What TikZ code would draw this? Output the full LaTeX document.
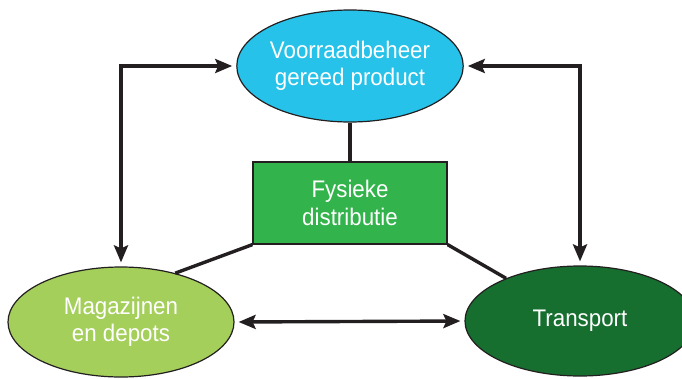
\documentclass[tikz,border=0pt]{standalone}
\usepackage{fontspec}
\setmainfont[FakeStretch=0.93]{Liberation Sans}
\usetikzlibrary{arrows.meta,shapes.geometric}
\definecolor{cyanfill}{HTML}{27C2E9}
\definecolor{midgreen}{HTML}{33B34B}
\definecolor{lightgreen}{HTML}{A4CF5B}
\definecolor{darkgreen}{HTML}{166E2F}
\definecolor{ink}{HTML}{231F20}
\tikzset{
  oval/.style={ellipse, draw=ink, line width=1.2pt, inner sep=0pt,
    text=white, align=center,
    font=\fontsize{24}{26.5}\selectfont},
  box/.style={rectangle, draw=ink, line width=1.2pt, inner sep=0pt,
    text=white, align=center, fill=midgreen,
    font=\fontsize{24}{27.5}\selectfont},
  link/.style={draw=ink, line width=3.4pt},
  flow/.style={draw=ink, line width=3.4pt,
    {Stealth[length=17pt,width=14pt,inset=3pt]}-{Stealth[length=17pt,width=14pt,inset=3pt]},
    shorten <=4pt, shorten >=4pt},
}
\begin{document}
\begin{tikzpicture}[x=1pt,y=-1pt]
  \useasboundingbox (0,0) rectangle (682,378);
  % the four parts of physical distribution
  \node[oval, fill=cyanfill, minimum width=224pt, minimum height=112pt]
    (voorraad) at (350,66) {Voorraadbeheer\\gereed product};
  \node[box, minimum width=194pt, minimum height=82pt]
    (fysiek) at (350,203) {Fysieke\\distributie};
  \node[oval, fill=lightgreen, minimum width=226pt, minimum height=110pt]
    (magazijn) at (121,322) {Magazijnen\\en depots};
  \node[oval, fill=darkgreen, minimum width=230pt, minimum height=110pt]
    (transport) at (580,321) {Transport};
  % plain links from the centre box
  \draw[link] (voorraad.south) -- (fysiek.north);
  \draw[link] (fysiek.south west) -- (magazijn.42);
  \draw[link] (fysiek.south east) -- (transport.150);
  % two-way flows between the outer parts
  \draw[flow] (magazijn.north) |- (voorraad.west);
  \draw[flow] (transport.north) |- (voorraad.east);
  \draw[flow] (magazijn.east) -- (transport.west);
\end{tikzpicture}
\end{document}
